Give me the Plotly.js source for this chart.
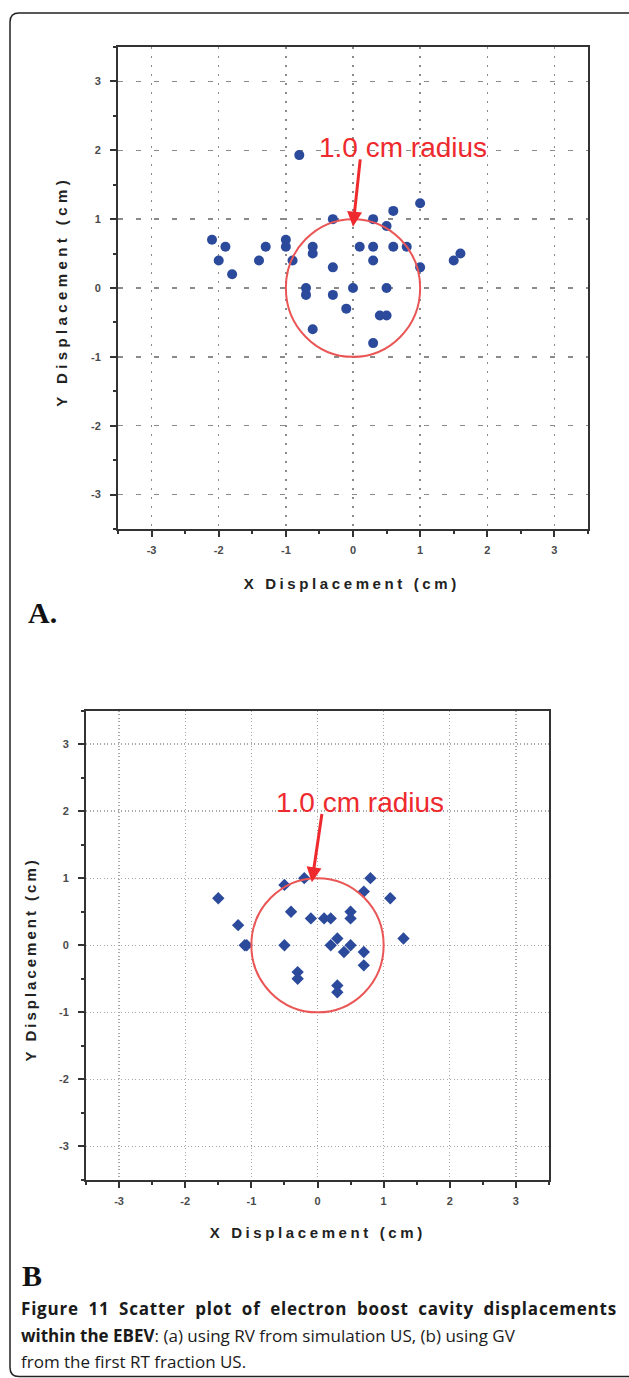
<!DOCTYPE html>
<html>
<head>
<meta charset="utf-8">
<script src="https://cdn.plot.ly/plotly-3.0.1.min.js"></script>
<style>
  html, body { margin: 0; padding: 0; background: #fff; }
  #chart { width: 629px; height: 1378px; }
</style>
</head>
<body>
<div id="chart"></div>
<script>
// ---- Data ----
// Panel A: RV from simulation US (circles)
const xA = [-0.8, 1.0, 0.6, -0.3, 0.3, 0.5, -2.1, -1.9, -2.0, -1.8, -1.4, -1.3, -1.0, -1.0, -0.9, -0.6, -0.6, 0.1, 0.3, 0.6, 0.8, 0.3, 1.0, 1.5, 1.6, -0.3, -0.7, -0.7, -0.3, 0.0, 0.5, -0.1, 0.4, 0.5, -0.6, 0.3];
const yA = [1.93, 1.23, 1.12, 1.0, 1.0, 0.9, 0.7, 0.6, 0.4, 0.2, 0.4, 0.6, 0.7, 0.6, 0.4, 0.6, 0.5, 0.6, 0.6, 0.6, 0.6, 0.4, 0.3, 0.4, 0.5, 0.3, 0.0, -0.1, -0.1, 0.0, 0.0, -0.3, -0.4, -0.4, -0.6, -0.8];
// Panel B: GV from the first RT fraction US (diamonds)
const xB = [0.8, -0.2, -0.5, 0.7, -1.5, 1.1, -0.4, -0.1, 0.1, 0.2, 0.5, 0.5, -1.2, -1.1, -1.07, -0.5, 0.3, 0.2, 0.5, 0.4, 0.7, 1.3, 0.7, -0.3, -0.3, 0.3, 0.3];
const yB = [1.0, 1.0, 0.9, 0.8, 0.7, 0.7, 0.5, 0.4, 0.4, 0.4, 0.5, 0.4, 0.3, 0.0, 0.0, 0.0, 0.1, 0.0, 0.0, -0.1, -0.1, 0.1, -0.3, -0.4, -0.5, -0.6, -0.7];

const tickVals = [-3, -2, -1, 0, 1, 2, 3];
const tickText = ['-3', '-2', '-1', '0', '1', '2', '3'];
const radiusCm = 1.0;
const radiusLabel = '1.0 cm radius';
const xTitle = 'X Displacement (cm)';
const yTitle = 'Y Displacement (cm)';
const panelLabels = ['A.', 'B'];
const captionBold1 = 'Figure 11 Scatter plot of electron boost cavity displacements';
const captionBold2 = 'within the EBEV';
const captionRest2 = ': (a) using RV from simulation US, (b) using GV';
const captionLine3 = 'from the first RT fraction US.';

// ---- helpers (pixel -> paper) ----
const W = 629, H = 1378;
const px = x => x / W;
const py = y => 1 - y / H;

const MARK = '#2c4a9c';
const RED = '#ee2a2e';
const CIRC = '#ea5656';
const AX = '#333';
const tickFont = {family: 'Liberation Sans, Arial, sans-serif', size: 11, color: '#4a4a4a'};

function axisBase(domain, anchor, griddash, gridcolor) {
  return {
    domain: domain, anchor: anchor, range: [-3.5, 3.5],
    tickmode: 'array', tickvals: tickVals, ticktext: tickText.map(t => '<b>' + t + '</b>'),
    ticks: 'outside', ticklen: 6, tickwidth: 2, tickcolor: AX, ticklabelstandoff: 4,
    showline: true, linewidth: 2, linecolor: AX, mirror: true,
    showgrid: true, gridcolor: gridcolor, gridwidth: 1.3, griddash: griddash,
    zeroline: false, tickfont: tickFont, fixedrange: true,
    minor: {dtick: 0.5, tick0: 0, ticks: 'outside', ticklen: 3, tickwidth: 2, tickcolor: AX, showgrid: false}
  };
}

const traces = [
  {x: xA, y: yA, xaxis: 'x', yaxis: 'y', type: 'scatter', mode: 'markers',
   marker: {symbol: 'circle', size: 10, color: MARK}, hoverinfo: 'x+y'},
  {x: xB, y: yB, xaxis: 'x2', yaxis: 'y2', type: 'scatter', mode: 'markers',
   marker: {symbol: 'diamond', size: 9.5, color: MARK}, hoverinfo: 'x+y'}
];

const titleFont = {family: 'Liberation Sans, Arial, sans-serif', size: 15, color: '#222'};
const capFont = {family: 'Open Sans, sans-serif', size: 17, color: '#1a1a1a'};
const serifFont = {family: 'Liberation Serif, Times New Roman, serif', size: 30, color: '#111'};

function paperText(x, y, text, font, extra) {
  return Object.assign({xref: 'paper', yref: 'paper', x: px(x), y: py(y), text: text, showarrow: false,
    xanchor: 'center', yanchor: 'middle', font: font}, extra || {});
}

const annotations = [
  // 0-1 Panel A: radius label + arrow
  {xref: 'x', yref: 'y', x: 0.75, y: 2.04, text: radiusLabel, showarrow: false, xanchor: 'center', yanchor: 'middle',
   font: {family: 'Liberation Sans, Arial, sans-serif', size: 28, color: RED}},
  {xref: 'x', yref: 'y', axref: 'x', ayref: 'y', x: 0.0, y: 0.89, ax: 0.11, ay: 1.89, text: '',
   showarrow: true, arrowhead: 2, arrowsize: 1, arrowwidth: 3, arrowcolor: RED, standoff: 0, startstandoff: 0},
  // 2-3 Panel B: radius label + arrow
  {xref: 'x2', yref: 'y2', x: 0.64, y: 2.13, text: radiusLabel, showarrow: false, xanchor: 'center', yanchor: 'middle',
   font: {family: 'Liberation Sans, Arial, sans-serif', size: 28, color: RED}},
  {xref: 'x2', yref: 'y2', axref: 'x2', ayref: 'y2', x: -0.085, y: 0.94, ax: 0.07, ay: 1.98, text: '',
   showarrow: true, arrowhead: 2, arrowsize: 1, arrowwidth: 3, arrowcolor: RED, standoff: 0, startstandoff: 0},
  // 4-7 axis titles
  paperText(352, 584, '<b>' + xTitle + '</b>', titleFont),
  paperText(62, 292, '<b>' + yTitle + '</b>', titleFont, {textangle: -90}),
  paperText(317.5, 1232, '<b>' + xTitle + '</b>', titleFont),
  paperText(30, 960, '<b>' + yTitle + '</b>', titleFont, {textangle: -90}),
  // 8-9 panel labels
  paperText(26, 612, '<b>' + panelLabels[0] + '</b>', serifFont, {xanchor: 'left'}),
  paperText(20, 1275, '<b>' + panelLabels[1] + '</b>', serifFont, {xanchor: 'left'}),
  // 10-12 caption
  paperText(19, 1308, '<b>' + captionBold1 + '</b>', capFont, {xanchor: 'left', align: 'left'}),
  paperText(19, 1335, '<b>' + captionBold2 + '</b>' + captionRest2, capFont, {xanchor: 'left', align: 'left'}),
  paperText(19, 1361, captionLine3, capFont, {xanchor: 'left', align: 'left'})
];

// rounded frame (left side of the figure box; the right side is cropped off in the original)
const fx0 = 10, fy0 = 13, fy1 = 1376.5, r = 9, fxEnd = 629;
const framePath = 'M ' + px(fxEnd) + ',' + py(fy0) +
  ' L ' + px(fx0 + r) + ',' + py(fy0) +
  ' Q ' + px(fx0) + ',' + py(fy0) + ' ' + px(fx0) + ',' + py(fy0 + r) +
  ' L ' + px(fx0) + ',' + py(fy1 - r) +
  ' Q ' + px(fx0) + ',' + py(fy1) + ' ' + px(fx0 + r) + ',' + py(fy1) +
  ' L ' + px(fxEnd) + ',' + py(fy1);

const shapes = [
  {type: 'circle', xref: 'x', yref: 'y', x0: -radiusCm, x1: radiusCm, y0: -radiusCm, y1: radiusCm,
   line: {color: CIRC, width: 2}, layer: 'above'},
  {type: 'circle', xref: 'x2', yref: 'y2', x0: -radiusCm, x1: radiusCm, y0: -radiusCm, y1: radiusCm,
   line: {color: CIRC, width: 2}, layer: 'above'},
  {type: 'path', xref: 'paper', yref: 'paper', path: framePath, line: {color: '#222', width: 1.5}}
];

const layout = {
  width: W, height: H,
  margin: {l: 0, r: 0, t: 0, b: 0},
  paper_bgcolor: '#fff', plot_bgcolor: '#fff',
  showlegend: false,
  xaxis: axisBase([px(118), px(588)], 'y', '2px,7px', '#8a8a8a'),
  yaxis: axisBase([py(529), py(47)], 'x', '5px,13px', '#8a8a8a'),
  xaxis2: axisBase([px(86), px(549)], 'y2', '1px,2.5px', '#a8a8a8'),
  yaxis2: axisBase([py(1180), py(710.5)], 'x2', '1px,2.5px', '#a8a8a8'),
  annotations: annotations,
  shapes: shapes
};
layout.yaxis.ticklabelstandoff = 7;
layout.yaxis2.ticklabelstandoff = 7;

Plotly.newPlot('chart', traces, layout, {staticPlot: true, displayModeBar: false}).then(function () {
  const spacing = {4: '3.6px', 5: '4.4px', 6: '3.6px', 7: '3.0px'};
  document.querySelectorAll('.annotation').forEach(function (g) {
    const idx = g.getAttribute('data-index');
    const texts = g.querySelectorAll('text');
    if (spacing[idx]) {
      texts.forEach(function (t) { t.style.letterSpacing = spacing[idx]; });
    }
    // first caption line is justified to the full text width (as in the original)
    if (idx === '10') {
      texts.forEach(function (t) {
        t.style.letterSpacing = '0.8px';
        const len = t.getComputedTextLength();
        const target = 596;
        const spaces = (captionBold1.match(/ /g) || []).length;
        if (len < target && spaces) t.style.wordSpacing = ((target - len) / spaces).toFixed(2) + 'px';
      });
    }
  });
});
</script>
</body>
</html>
